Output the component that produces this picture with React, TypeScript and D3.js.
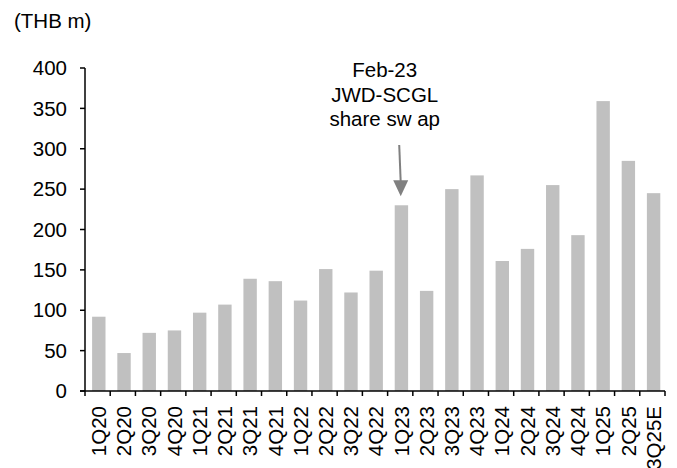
import React from "react";
import * as d3 from "d3";

const categories = ["1Q20","2Q20","3Q20","4Q20","1Q21","2Q21","3Q21","4Q21","1Q22","2Q22","3Q22","4Q22","1Q23","2Q23","3Q23","4Q23","1Q24","2Q24","3Q24","4Q24","1Q25","2Q25","3Q25E"];
const values = [92,47,72,75,97,107,139,136,112,151,122,149,230,124,250,267,161,176,255,193,359,285,245];
const yTicks = [0,50,100,150,200,250,300,350,400];
const unitLabel = "(THB m)";
const annotationLines = ["Feb-23", "JWD-SCGL", "share sw ap"];
const annotationCategory = "1Q23";

const W = 677, H = 468;
const left = 85, right = 665, top = 68, bottom = 391;
const FONT = "'Liberation Sans', Arial, sans-serif";
const FS = 20.5;

export default function App() {
  const x = d3.scaleBand<string>().domain(categories).range([left, right]).paddingInner(0).paddingOuter(0);
  const bandW = x.bandwidth();
  const barW = 13.4;
  const y = d3.scaleLinear().domain([0, 400]).range([bottom, top]);

  const bandEdges = categories.map(c => x(c) as number);
  bandEdges.push(right);

  const annX = (x(annotationCategory) as number) + bandW / 2 + 0.5;
  const annVal = values[categories.indexOf(annotationCategory)];
  const tipY = y(annVal) - 9;
  const textCx = annX - 16;

  return (
    <svg width={W} height={H} style={{ position: "absolute", left: 0, top: 0, display: "block", background: "#fff" }} fontFamily={FONT}>
      <text x={14} y={28} fontSize={FS} fill="#000">{unitLabel}</text>
      {categories.map((c, i) => {
        const bx = (x(c) as number) + (bandW - barW) / 2 + 1.2;
        return (
          <rect key={c} x={bx} y={y(values[i])} width={barW} height={y(0) - y(values[i])} fill="#c0c0c0" />
        );
      })}
      <line x1={left} x2={left} y1={y(400)} y2={y(0)} stroke="#000" strokeWidth={1.5} />
      {yTicks.map(t => (
        <g key={t}>
          <line x1={left - 5} x2={left} y1={y(t)} y2={y(t)} stroke="#000" strokeWidth={1.5} />
          <text x={67} y={y(t)} dy="0.35em" textAnchor="end" fontSize={FS} fill="#000">{t}</text>
        </g>
      ))}
      <line x1={left - 5} x2={right} y1={y(0)} y2={y(0)} stroke="#000" strokeWidth={1.5} />
      {bandEdges.map((e, i) => (
        <line key={i} x1={e} x2={e} y1={y(0)} y2={y(0) + 5} stroke="#000" strokeWidth={1.5} />
      ))}
      {categories.map(c => {
        const cx = (x(c) as number) + bandW / 2 + 1.2;
        return (
          <text key={c} transform={`translate(${cx},406) rotate(-90)`} dy="0.35em" textAnchor="end" fontSize={FS} fill="#000">{c}</text>
        );
      })}
      {annotationLines.map((l, i) => (
        <text key={i} x={textCx} y={77 + i * 24.5} textAnchor="middle" fontSize={FS} fill="#000">{l}</text>
      ))}
      <line x1={annX - 1.5} y1={145} x2={annX} y2={tipY - 14} stroke="#808080" strokeWidth={2} />
      <path d={`M${annX - 7.5},${tipY - 16} L${annX + 7.5},${tipY - 16} L${annX},${tipY} Z`} fill="#808080" />
    </svg>
  );
}
